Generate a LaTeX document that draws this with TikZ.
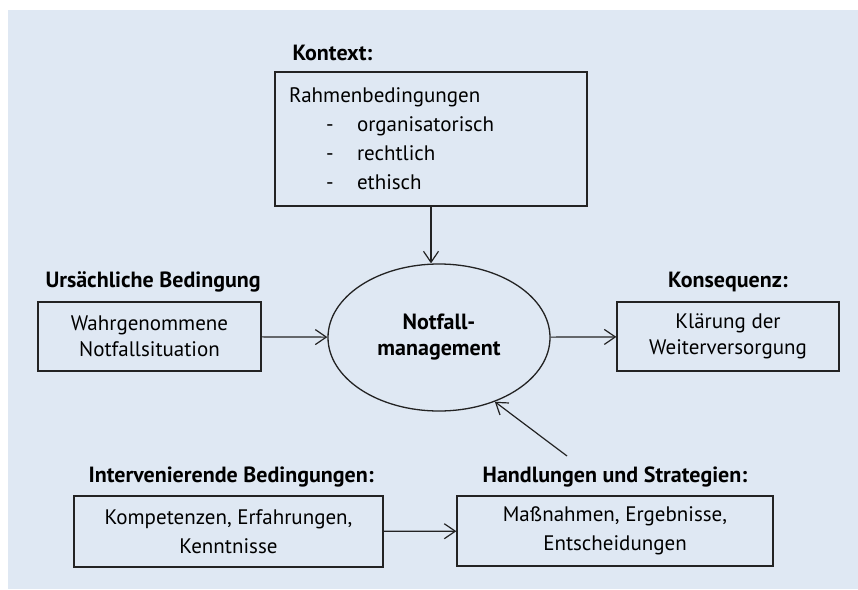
\documentclass[tikz,border=0pt]{standalone}
\usepackage{fontspec}
\setmainfont{PT Sans}
\usetikzlibrary{arrows.meta}
\usetikzlibrary{shapes.geometric}
\definecolor{hintergrund}{RGB}{223,232,243}
\definecolor{linie}{RGB}{35,35,35}

\begin{document}
\begin{tikzpicture}[x=1pt, y=-1pt,
        kasten/.style={draw=linie, line width=1.3pt, inner sep=0pt, align=center,
            font=\fontsize{21}{26}\selectfont},
        titel/.style={font=\fontsize{22}{24}\selectfont\bfseries},
        pfeil/.style={draw=linie, line width=1.2pt, -{Straight Barb[length=11pt, width=15pt]}}]
            \useasboundingbox (0,0) rectangle (858,589);
            \fill[hintergrund] (8,10) rectangle (858,589);

            \node[titel, anchor=west] (kontexttitel) at (289,53) {Kontext:};
            \node[kasten, minimum width=312, minimum height=134, text width=284pt, align=left,
                font=\fontsize{21}{29}\selectfont] (kontext) at (431,139)
                {Rahmenbedingungen\\
                \hspace*{37pt}\makebox[31pt][l]{-}organisatorisch\\
                \hspace*{37pt}\makebox[31pt][l]{-}rechtlich\\
                \hspace*{37pt}\makebox[31pt][l]{-}ethisch};

            \node[titel, anchor=west] (ursachetitel) at (42,282) {Ursächliche Bedingung};
            \node[kasten, minimum width=223, minimum height=69] (ursache) at (149.5,336.5)
                {Wahrgenommene\\Notfallsituation};

            \node[draw=linie, line width=1.3pt, ellipse, inner sep=0pt, minimum width=222,
                minimum height=147, align=center, font=\fontsize{22}{26}\selectfont\bfseries]
                (notfall) at (439,337.5) {Notfall-\\management};

            \node[titel] (konsequenztitel) at (728,282) {Konsequenz:};
            \node[kasten, minimum width=222, minimum height=69] (konsequenz) at (728,336.5)
                {Klärung der\\Weiterversorgung};

            \node[titel, anchor=west] (intervtitel) at (85,477) {Intervenierende Bedingungen:};
            \node[kasten, minimum width=309, minimum height=71, font=\fontsize{21}{29}\selectfont]
                (interv) at (228.5,531.5) {Kompetenzen, Erfahrungen,\\Kenntnisse};

            \node[titel] (handlungtitel) at (615,477) {Handlungen und Strategien:};
            \node[kasten, minimum width=316, minimum height=70, font=\fontsize{21}{29}\selectfont]
                (handlung) at (615,531) {Maßnahmen, Ergebnisse,\\Entscheidungen};
            \coordinate (handlungstart) at (567,456);

            \draw[pfeil] (kontext.south) to (kontext.south |- notfall.north);
            \draw[pfeil] (ursache) to (notfall);
            \draw[pfeil] (notfall) to (konsequenz);
            \draw[pfeil] (interv) to (handlung);
            \draw[pfeil] (handlungstart) to (notfall.-49);
        \end{tikzpicture}
\end{document}
